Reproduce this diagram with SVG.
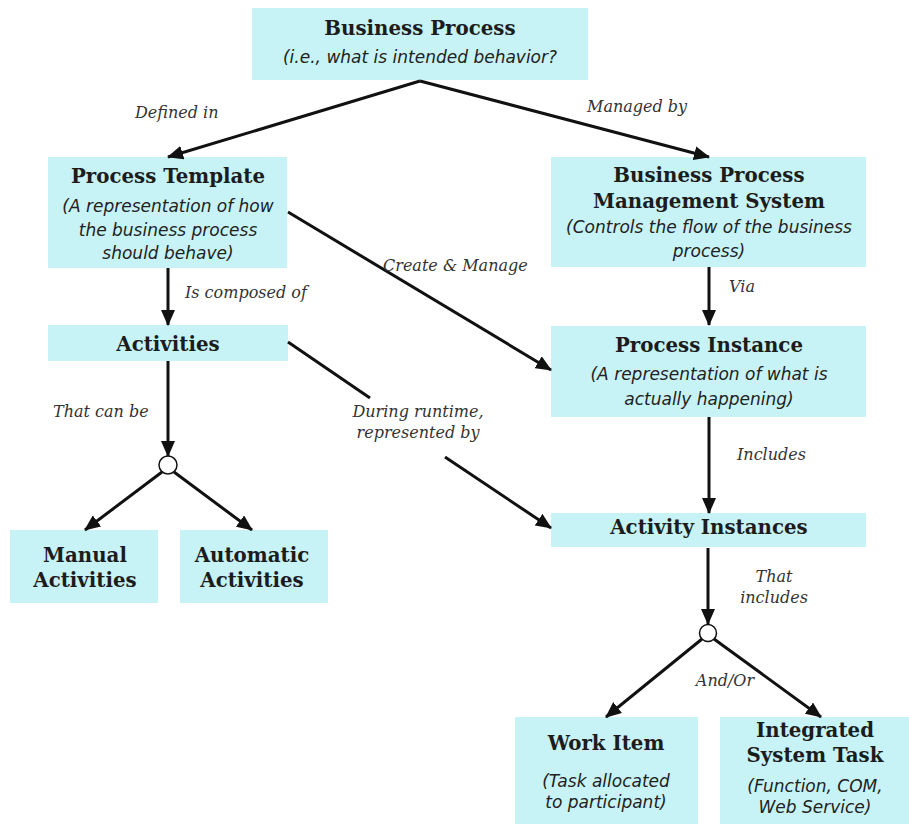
<svg xmlns="http://www.w3.org/2000/svg" width="909" height="824" viewBox="0 0 909 824">
<style>
.box{fill:#c7f3f7}
.t{font-family:"DejaVu Serif","Liberation Serif",serif;font-weight:bold;font-size:19.8px;fill:#1c1c1c;text-anchor:middle}
.s{font-family:"DejaVu Sans","Liberation Sans",sans-serif;font-style:italic;font-size:17px;fill:#222;text-anchor:middle}
.l{font-family:"DejaVu Serif","Liberation Serif",serif;font-style:italic;font-size:16px;fill:#333}
.m{text-anchor:middle}
.c{stroke:#111;stroke-width:3;fill:none}
.a{marker-end:url(#ah)}
.j{fill:#fff;stroke:#111;stroke-width:1.5}
</style>
<defs>
<marker id="ah" markerUnits="userSpaceOnUse" markerWidth="18" markerHeight="14" refX="15" refY="7" orient="auto">
<path d="M0,0 L16,7 L0,14 z" fill="#111"/>
</marker>
</defs>
<rect width="909" height="824" fill="#fff"/>
<g id="n-business-process">
<rect class="box" x="252" y="8" width="336" height="72"/>
<text class="t" x="420" y="35">Business Process</text>
<text class="s" x="420" y="63">(i.e., what is intended behavior?</text>
</g>
<g id="n-process-template">
<rect class="box" x="48" y="157" width="239" height="111"/>
<text class="t" x="168" y="183">Process Template</text>
<text class="s" x="168" y="212">(A representation of how</text>
<text class="s" x="168" y="236">the business process</text>
<text class="s" x="168" y="259">should behave)</text>
</g>
<g id="n-bpms">
<rect class="box" x="551" y="157" width="315" height="110"/>
<text class="t" x="709" y="182">Business Process</text>
<text class="t" x="709" y="208">Management System</text>
<text class="s" x="709" y="233">(Controls the flow of the business</text>
<text class="s" x="709" y="257">process)</text>
</g>
<g id="n-activities">
<rect class="box" x="48" y="325" width="240" height="36"/>
<text class="t" x="168" y="351">Activities</text>
</g>
<g id="n-process-instance">
<rect class="box" x="551" y="326" width="315" height="91"/>
<text class="t" x="709" y="352">Process Instance</text>
<text class="s" x="709" y="380">(A representation of what is</text>
<text class="s" x="709" y="405">actually happening)</text>
</g>
<g id="n-activity-instances">
<rect class="box" x="551" y="513" width="315" height="34"/>
<text class="t" x="709" y="534">Activity Instances</text>
</g>
<g id="n-manual">
<rect class="box" x="10" y="530" width="148" height="73"/>
<text class="t" x="85" y="562">Manual</text>
<text class="t" x="85" y="587">Activities</text>
</g>
<g id="n-automatic">
<rect class="box" x="180" y="530" width="148" height="73"/>
<text class="t" x="252" y="562">Automatic</text>
<text class="t" x="252" y="587">Activities</text>
</g>
<g id="n-work-item">
<rect class="box" x="515" y="717" width="183" height="107"/>
<text class="t" x="606" y="750">Work Item</text>
<text class="s" x="606" y="787">(Task allocated</text>
<text class="s" x="606" y="808">to participant)</text>
</g>
<g id="n-integrated">
<rect class="box" x="720" y="717" width="189" height="107"/>
<text class="t" x="815" y="737">Integrated</text>
<text class="t" x="815" y="762">System Task</text>
<text class="s" x="815" y="792">(Function, COM,</text>
<text class="s" x="815" y="813">Web Service)</text>
</g>
<g id="connectors">
<line class="c a" x1="420" y1="81" x2="168" y2="157"/>
<line class="c a" x1="420" y1="81" x2="709" y2="157"/>
<line class="c a" x1="168" y1="268" x2="168" y2="325"/>
<line class="c a" x1="288" y1="212" x2="551" y2="370"/>
<line class="c a" x1="709" y1="267" x2="709" y2="325"/>
<line class="c" x1="288" y1="342" x2="370" y2="398"/>
<line class="c a" x1="445" y1="457" x2="551" y2="528"/>
<line class="c a" x1="168" y1="361" x2="168" y2="456"/>
<circle class="j" cx="168" cy="465" r="9"/>
<line class="c a" x1="162" y1="472" x2="85" y2="530"/>
<line class="c a" x1="174" y1="472" x2="252" y2="530"/>
<line class="c a" x1="709" y1="417" x2="709" y2="513"/>
<line class="c a" x1="708" y1="548" x2="708" y2="624"/>
<circle class="j" cx="708" cy="633" r="8.5"/>
<line class="c a" x1="702" y1="639" x2="606" y2="717"/>
<line class="c a" x1="714" y1="639" x2="821" y2="717"/>
<text class="l" x="135" y="118">Defined in</text>
<text class="l" x="587" y="112">Managed by</text>
<text class="l" x="185" y="298">Is composed of</text>
<text class="l" x="383" y="271">Create &amp; Manage</text>
<text class="l" x="729" y="292">Via</text>
<text class="l" x="53" y="417">That can be</text>
<text class="l m" x="418" y="417">During runtime,</text>
<text class="l m" x="418" y="438">represented by</text>
<text class="l" x="737" y="460">Includes</text>
<text class="l m" x="774" y="582">That</text>
<text class="l m" x="774" y="603">includes</text>
<text class="l m" x="725" y="686">And/Or</text>
</g>
</svg>
